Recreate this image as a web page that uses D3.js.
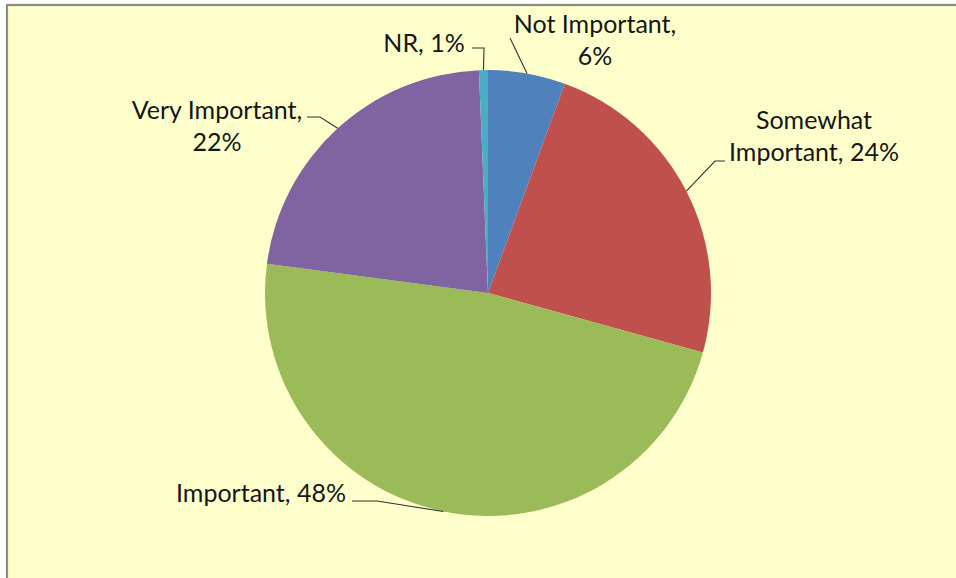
<!DOCTYPE html>
<html>
<head>
<meta charset="utf-8">
<script src="https://cdn.jsdelivr.net/npm/d3@7"></script>
<style>
  html, body { margin: 0; padding: 0; background: #ffffff; }
  svg { display: block; }
</style>
</head>
<body>
<svg id="chart" width="956" height="578"></svg>
<script>
// ---- data ----
const categories = ["Not Important", "Somewhat Important", "Important", "Very Important", "NR"];
const shares = [5.6, 23.7, 47.8, 22.25, 0.65];   // slice sizes as drawn (%)
const labelPercents = ["6%", "24%", "48%", "22%", "1%"];
const colors = ["#4F81BD", "#C0504D", "#9BBB59", "#8064A2", "#4BACC6"];

// ---- layout (label placement, not data) ----
const labelLayout = [
  { lines: ["Not Important,", "6%"], x: 595, y: 33, leader: [[510, 38]] },
  { lines: ["Somewhat", "Important, 24%"], x: 814, y: 129, leader: [[725, 161], [715, 161]] },
  { lines: ["Important, 48%"], x: 261, y: 502, leader: [[352, 501], [377, 501]] },
  { lines: ["Very Important,", "22%"], x: 217, y: 119, leader: [[307, 117], [320, 117]] },
  { lines: ["NR, 1%"], x: 424, y: 52, leader: [[472, 48], [484, 48]] }
];

const W = 956, H = 578;
const cx = 488, cy = 293, R = 223;
const svg = d3.select("#chart");

// background panel with border
svg.append("rect").attr("x", 7).attr("y", 5).attr("width", W + 20).attr("height", H + 20)
  .attr("fill", "#FFFFCC").attr("stroke", "#8a8a8a").attr("stroke-width", 2.2);

const pie = d3.pie().sort(null).value(d => d)(shares);
const arc = d3.arc().innerRadius(0).outerRadius(R);
const color = d3.scaleOrdinal().domain(categories).range(colors);

const g = svg.append("g").attr("transform", `translate(${cx},${cy})`);
g.selectAll("path.slice").data(pie).enter().append("path")
  .attr("class", "slice")
  .attr("d", arc)
  .attr("fill", (d, i) => color(categories[i]));

// leader lines (end on the rim at each slice's mid-angle)
const edgePoint = d => {
  const a = (d.startAngle + d.endAngle) / 2;
  return [cx + R * Math.sin(a), cy - R * Math.cos(a)];
};
svg.selectAll("path.leader").data(pie).enter().append("path")
  .attr("class", "leader")
  .attr("fill", "none").attr("stroke", "#333").attr("stroke-width", 1.1)
  .attr("d", (d, i) => d3.line()(labelLayout[i].leader.concat([edgePoint(d)])));

// labels
const fontFamily = "Lato, 'Open Sans', 'Liberation Sans', sans-serif";
const lbl = svg.selectAll("text.lbl").data(pie).enter().append("text")
  .attr("class", "lbl")
  .attr("text-anchor", "middle")
  .attr("font-family", fontFamily)
  .attr("font-size", 25)
  .attr("fill", "#161616");
lbl.each(function (d, i) {
  const L = labelLayout[i];
  d3.select(this).selectAll("tspan").data(L.lines).enter().append("tspan")
    .attr("x", L.x).attr("y", (t, j) => L.y + j * 32)
    .text(t => t);
});
</script>
</body>
</html>
